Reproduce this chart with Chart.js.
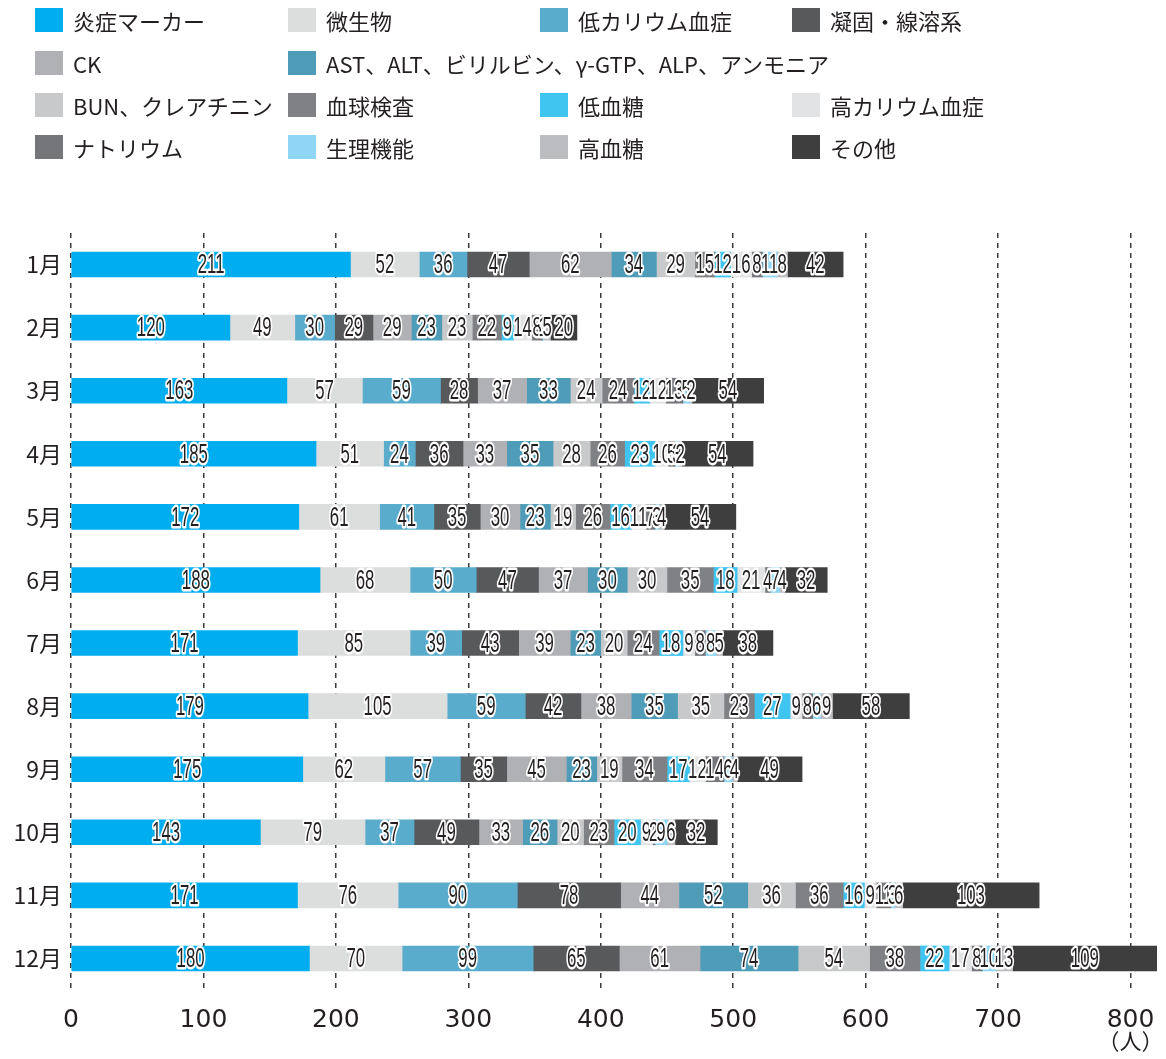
<!DOCTYPE html>
<html>
<head>
<meta charset="utf-8">
<script src="https://cdn.jsdelivr.net/npm/chart.js@4"></script>
<style>
html,body{margin:0;padding:0;background:#fff;}
#wrap{position:relative;width:1166px;height:1059px;}
#c{position:absolute;left:0;top:0;}
.lg{position:absolute;display:flex;align-items:center;font-family:"Noto Sans CJK JP","Noto Sans",sans-serif;font-size:22px;color:#231f20;white-space:nowrap;line-height:1;}
.lg span.sw{display:inline-block;width:28px;height:24px;margin-right:10px;}
</style>
</head>
<body>
<div id="wrap">
<canvas id="c" width="1166" height="1059"></canvas>
</div>
<script>
const months = ['1月','2月','3月','4月','5月','6月','7月','8月','9月','10月','11月','12月'];
const seriesNames = ['炎症マーカー','微生物','低カリウム血症','凝固・線溶系','CK','AST、ALT、ビリルビン、γ-GTP、ALP、アンモニア','BUN、クレアチニン','血球検査','低血糖','高カリウム血症','ナトリウム','生理機能','高血糖','その他'];
const seriesColors = ['#00aeef','#dcdddd','#5aaccd','#58595b','#b0b1b4','#4e9cb8','#c8c9ca','#808184','#40c4f0','#e2e3e4','#75767a','#8fd6f4','#bcbdc0','#3e3e3f'];

const inflammation = [211,120,163,185,172,188,171,179,175,143,171,180];
const microbe      = [52,49,57,51,61,68,85,105,62,79,76,70];
const hypokalemia  = [36,30,59,24,41,50,39,59,57,37,90,99];
const coagulation  = [47,29,28,36,35,47,43,42,35,49,78,65];
const ck           = [62,29,37,33,30,37,39,38,45,33,44,61];
const liver        = [34,23,33,35,23,30,23,35,23,26,52,74];
const renal        = [29,23,24,28,19,30,20,35,19,20,36,54];
const blood        = [15,22,24,26,26,35,24,23,34,23,36,38];
const hypoglycemia = [12,9,12,23,16,18,18,27,17,20,16,22];
const hyperkalemia = [16,14,12,10,11,21,9,9,12,9,9,17];
const sodium       = [8,8,13,5,7,4,8,8,14,2,11,8];
const physiology   = [11,1,5,3,3,7,8,6,6,9,3,10];
const hyperglycemia= [8,5,2,2,4,4,5,9,4,6,6,13];
const other        = [42,20,54,54,54,32,38,58,49,32,103,109];

const xTicks = [0,100,200,300,400,500,600,700,800];
const unitLabel = '（人）';

const seriesValues = [inflammation,microbe,hypokalemia,coagulation,ck,liver,renal,blood,hypoglycemia,hyperkalemia,sodium,physiology,hyperglycemia,other];

// HTML legend layout (rows of [seriesIndex, column])
const legendRows = [[[0,0],[1,1],[2,2],[3,3]],[[4,0],[5,1]],[[6,0],[7,1],[8,2],[9,3]],[[10,0],[11,1],[12,2],[13,3]]];
const colX = [35,288,540,792];
const rowTop = [8,51,93,135];
const wrap = document.getElementById('wrap');
legendRows.forEach((row,ri)=>{
  row.forEach(([si,ci])=>{
    const d = document.createElement('div');
    d.className='lg';
    d.style.left = colX[ci]+'px';
    d.style.top = rowTop[ri]+'px';
    d.innerHTML = '<span class="sw" style="background:'+seriesColors[si]+'"></span><span>'+seriesNames[si]+'</span>';
    wrap.appendChild(d);
  });
});

const labelPlugin = {
  id:'segLabels',
  afterDatasetsDraw(chart){
    const ctx = chart.ctx;
    ctx.save();
    ctx.font = '28px "Liberation Sans", Arial, sans-serif';
    ctx.textAlign='center';
    ctx.textBaseline='middle';
    ctx.lineJoin='round';
    chart.data.datasets.forEach((ds,di)=>{
      const meta = chart.getDatasetMeta(di);
      meta.data.forEach((bar,i)=>{
        const v = ds.data[i];
        const cx = (bar.x + bar.base)/2;
        const cy = bar.y + 1;
        ctx.save();
        ctx.translate(cx,cy);
        ctx.scale(0.6,1);
        ctx.lineWidth = 5;
        ctx.strokeStyle = '#ffffff';
        ctx.strokeText(String(v),0,0);
        ctx.fillStyle = '#231f20';
        ctx.fillText(String(v),0,0);
        ctx.restore();
      });
    });
    ctx.restore();
  },
  afterDraw(chart){
    const ctx = chart.ctx;
    const xs = chart.scales.x;
    ctx.save();
    ctx.font = '22px "Noto Sans CJK JP", sans-serif';
    ctx.fillStyle = '#231f20';
    ctx.textAlign='center';
    ctx.textBaseline='middle';
    ctx.fillText(unitLabel, xs.getPixelForValue(800), chart.chartArea.bottom + 51);
    ctx.restore();
  }
};

new Chart(document.getElementById('c'),{
  type:'bar',
  data:{
    labels: months,
    datasets: seriesNames.map((n,i)=>({
      label:n,
      data:seriesValues[i],
      backgroundColor:seriesColors[i],
      borderWidth:0,
      barThickness:25
    }))
  },
  options:{
    indexAxis:'y',
    responsive:false,
    animation:false,
    layout:{padding:{left:0,right:9,top:233,bottom:0}},
    plugins:{legend:{display:false},tooltip:{enabled:false}},
    scales:{
      x:{
        stacked:true,
        min:0,max:820,
        afterBuildTicks(axis){ axis.ticks = xTicks.map(v=>({value:v})); },
        afterFit(axis){ axis.height = 69; axis.paddingLeft = 0; axis.paddingRight = 0; },
        grid:{color:'#3a3a3a',lineWidth:1.5,drawTicks:false},
        border:{display:false,dash:[5,5]},
        ticks:{padding:15,color:'#231f20',font:{family:'"DejaVu Sans", sans-serif',size:25},maxRotation:0,autoSkip:false}
      },
      y:{
        stacked:true,
        afterFit(axis){ axis.width = 71; axis.paddingTop = 0; axis.paddingBottom = 0; },
        grid:{display:false,drawTicks:false},
        border:{display:false},
        ticks:{padding:9,color:'#231f20',font:{family:'"Noto Sans CJK JP", sans-serif',size:23}}
      }
    }
  },
  plugins:[labelPlugin]
});
</script>
</body>
</html>
